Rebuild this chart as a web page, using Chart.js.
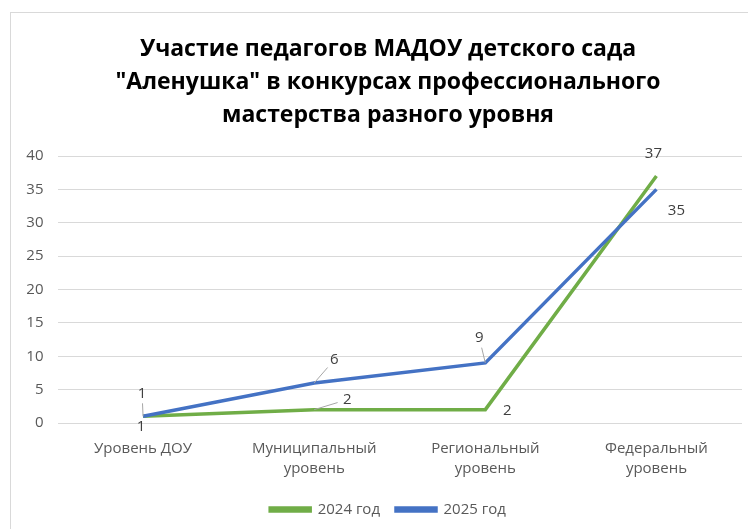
<!DOCTYPE html>
<html>
<head>
<meta charset="utf-8">
<script src="https://cdn.jsdelivr.net/npm/chart.js@4"></script>
<style>
  html, body { margin: 0; padding: 0; background: #fff; overflow: hidden; }
  #wrap { width: 772px; height: 529px; }
</style>
</head>
<body>
<div id="wrap"><canvas id="myChart"></canvas></div>
<script>
var categories = [["Уровень ДОУ"], ["Муниципальный", "уровень"], ["Региональный", "уровень"], ["Федеральный", "уровень"]];
var seriesNames = ["2024 год", "2025 год"];
var values2024 = [1, 2, 2, 37];
var values2025 = [1, 6, 9, 35];
var yTicks = [0, 5, 10, 15, 20, 25, 30, 35, 40];
var titleLines = ["Участие педагогов МАДОУ детского сада", "\"Аленушка\" в конкурсах профессионального", "мастерства разного уровня"];

// label offsets from the point (dx, dy) and whether a leader line is drawn
var labelPos = [
    [[-2, 10, false], [33, -10, true], [22, 1, false], [-3, -22, false]],
    [[-1, -23, true], [20, -23, true], [-6, -25, true], [20, 21, false]]
];

var frame = {
    id: 'frame',
    beforeDraw: function (chart) {
        var c = chart.ctx;
        c.save();
        c.strokeStyle = '#d9d9d9';
        c.lineWidth = 1;
        c.strokeRect(10.5, 12.5, 800, 600);
        c.restore();
    }
};

var dataLabels = {
    id: 'dataLabels',
    afterDatasetsDraw: function (chart) {
        var c = chart.ctx;
        c.save();
        c.font = '15px "Open Sans"';
        c.textAlign = 'center';
        c.textBaseline = 'middle';
        chart.data.datasets.forEach(function (ds, i) {
            var meta = chart.getDatasetMeta(i);
            meta.data.forEach(function (pt, j) {
                var p = labelPos[i][j];
                var lx = pt.x + p[0], ly = pt.y + p[1];
                if (p[2]) {
                    var dx = lx - pt.x, dy = ly - pt.y;
                    var len = Math.sqrt(dx * dx + dy * dy);
                    var k = (len - 10) / len;
                    c.strokeStyle = '#a6a6a6';
                    c.lineWidth = 1;
                    c.beginPath();
                    c.moveTo(pt.x, pt.y);
                    c.lineTo(pt.x + dx * k, pt.y + dy * k);
                    c.stroke();
                }
                c.fillStyle = '#404040';
                c.fillText(String(ds.data[j]), lx, ly);
            });
        });
        c.restore();
    }
};

new Chart(document.getElementById('myChart'), {
    type: 'line',
    data: {
        labels: categories,
        datasets: [{
            label: seriesNames[0],
            data: values2024,
            borderColor: '#70AD47',
            backgroundColor: '#70AD47',
            borderWidth: 3.5,
            pointRadius: 0,
            tension: 0,
            order: 2
        }, {
            label: seriesNames[1],
            data: values2025,
            borderColor: '#4472C4',
            backgroundColor: '#4472C4',
            borderWidth: 3.5,
            pointRadius: 0,
            tension: 0,
            order: 1
        }]
    },
    options: {
        responsive: true,
        maintainAspectRatio: false,
        animation: false,
        layout: { padding: { left: 10, right: 6, top: 33, bottom: 2 } },
        plugins: {
            title: {
                display: true,
                text: titleLines,
                color: '#000000',
                font: { family: '"Open Sans"', size: 23, weight: 'bold', lineHeight: 1.435 },
                padding: { top: 0, bottom: 24 }
            },
            legend: {
                position: 'bottom',
                labels: {
                    sort: function (a, b) { return a.datasetIndex - b.datasetIndex; },
                    color: '#595959',
                    font: { family: '"Open Sans"', size: 15 },
                    boxWidth: 40,
                    boxHeight: 3,
                    padding: 16
                }
            },
            tooltip: { enabled: false }
        },
        scales: {
            x: {
                offset: true,
                afterFit: function (scale) { scale.height = 63; },
                grid: { display: false, drawTicks: false },
                border: { display: false },
                ticks: {
                    color: '#595959',
                    font: { family: '"Open Sans"', size: 15, lineHeight: 1.3 },
                    padding: 16,
                    maxRotation: 0,
                    autoSkip: false
                }
            },
            y: {
                min: 0,
                max: 40,
                afterFit: function (scale) { scale.width = 47.5; },
                afterBuildTicks: function (scale) {
                    scale.ticks = yTicks.map(function (v) { return { value: v }; });
                },
                grid: { color: '#d9d9d9', lineWidth: 1, drawTicks: false },
                border: { display: false },
                ticks: {
                    color: '#595959',
                    font: { family: '"Open Sans"', size: 15 },
                    padding: 14
                }
            },
            yRight: {
                position: 'right',
                afterFit: function (scale) { scale.width = 24; },
                grid: { display: false, drawTicks: false },
                border: { display: false },
                ticks: { display: false }
            }
        }
    },
    plugins: [frame, dataLabels]
});
</script>
</body>
</html>
